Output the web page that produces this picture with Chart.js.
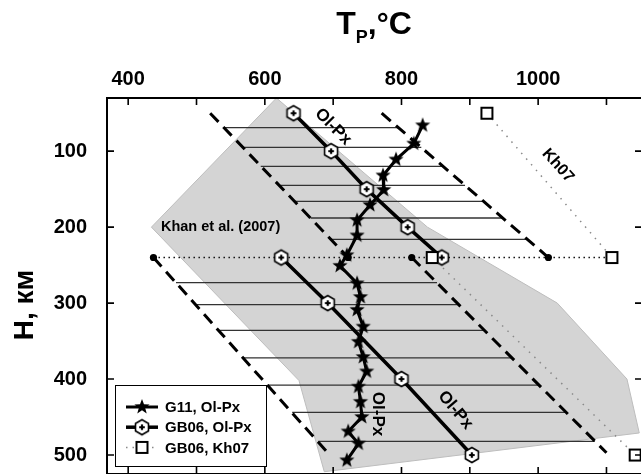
<!DOCTYPE html>
<html>
<head>
<meta charset="utf-8">
<script src="https://cdn.jsdelivr.net/npm/chart.js@4.4.0/dist/chart.umd.min.js"></script>
<style>
  html, body { margin: 0; padding: 0; background: #fff; overflow: hidden; }
  canvas { display: block; }
</style>
</head>
<body>
<canvas id="chart" width="645" height="480" style="width:645px;height:480px"></canvas>
<script>
const FONT = "'Liberation Sans', Arial, sans-serif";

const xTicks = [400, 500, 600, 700, 800, 900, 1000, 1100];
const yTicks = [100, 200, 300, 400, 500];

// G11, Ol-Px
const g11Depth = [66, 90, 111, 132, 151, 171, 191, 211, 237, 251, 274, 292, 309, 331, 351, 371, 390, 410, 430, 450, 469, 485, 507];
const g11Temp  = [831, 818, 792, 773, 774, 754, 735, 735, 720, 710, 735, 740, 735, 744, 737, 744, 749, 737, 740, 742, 722, 737, 720];

// GB06, Ol-Px (two branches)
const gbUpperDepth = [50, 100, 150, 200, 240];
const gbUpperTemp  = [642, 697, 749, 809, 859];
const gbLowerDepth = [240, 300, 400, 500];
const gbLowerTemp  = [624, 692, 800, 903];

// GB06, Kh07
const khUpperDepth = [50, 240];
const khUpperTemp  = [925, 1108];
const khLowerDepth = [240, 500];
const khLowerTemp  = [845, 1142];

// 240 km level
const levelDepth = [240, 240];
const levelTemp  = [437, 1108];

// dashed bounds
const dashUpperDepth = [50, 240];
const dashUpperLeft  = [520, 722];
const dashUpperRight = [771, 1015];
const dashLowerDepth = [240, 500];
const dashLowerLeft  = [437, 695];
const dashLowerRightDepth = [240, 497];
const dashLowerRight = [815, 1100];

// tie lines
const tieUpperDepth = [69, 95, 120, 145, 166, 188, 216];
const tieUpperLeft  = [540, 568, 594, 621, 643, 667, 696];
const tieUpperRight = [795, 829, 861, 893, 920, 948, 984];
const tieLowerDepth = [273, 302, 336, 372, 408, 444, 482];
const tieLowerLeft  = [470, 499, 532, 568, 604, 640, 678];
const tieLowerRight = [852, 884, 921, 961, 1001, 1041, 1083];

// Khan et al. (2007) region
const khanTemp  = [617, 838, 1028, 1130, 1148, 687, 650, 434, 617];
const khanDepth = [30, 200, 300, 400, 471, 522, 402, 200, 30];

function pts(temps, depths) {
  return temps.map((t, i) => ({ x: t, y: depths[i] }));
}

function ties(depths, left, right) {
  const out = [];
  depths.forEach((d, i) => {
    out.push({ x: left[i], y: d }, { x: right[i], y: d }, { x: right[i], y: null });
  });
  return out;
}

function makeCanvas(s) {
  const c = document.createElement('canvas');
  c.width = s; c.height = s;
  return c;
}

function makeStar(r) {
  const s = 2 * Math.ceil(r + 2);
  const c = makeCanvas(s);
  const g = c.getContext('2d');
  const cx = s / 2, cy = s / 2;
  g.beginPath();
  for (let i = 0; i < 10; i++) {
    const rad = i % 2 === 0 ? r : r * 0.42;
    const a = -Math.PI / 2 + i * Math.PI / 5;
    g.lineTo(cx + rad * Math.cos(a), cy + rad * Math.sin(a));
  }
  g.closePath();
  g.fillStyle = '#000';
  g.fill();
  return c;
}

function makeHex(r) {
  const s = 2 * Math.ceil(r + 2);
  const c = makeCanvas(s);
  const g = c.getContext('2d');
  const cx = s / 2, cy = s / 2;
  g.beginPath();
  for (let i = 0; i < 6; i++) {
    const a = -Math.PI / 2 + i * Math.PI / 3;
    g.lineTo(cx + r * Math.cos(a), cy + r * Math.sin(a));
  }
  g.closePath();
  g.fillStyle = '#fff';
  g.fill();
  g.lineWidth = 1.6;
  g.strokeStyle = '#000';
  g.stroke();
  g.lineWidth = 2.2;
  g.beginPath();
  g.moveTo(cx - 2.8, cy); g.lineTo(cx + 2.8, cy);
  g.moveTo(cx, cy - 2.8); g.lineTo(cx, cy + 2.8);
  g.stroke();
  return c;
}

function makeSquare(a) {
  const s = a + 6;
  const c = makeCanvas(s);
  const g = c.getContext('2d');
  g.fillStyle = '#fff';
  g.fillRect(3, 3, a, a);
  g.lineWidth = 2;
  g.strokeStyle = '#000';
  g.strokeRect(3, 3, a, a);
  return c;
}

const starImg = makeStar(8);
const hexImg = makeHex(7.5);
const squareImg = makeSquare(11);

function dashed(data, dotIndex) {
  return {
    data: data,
    borderColor: '#000',
    borderWidth: 3,
    borderDash: [12, 7],
    pointRadius: data.map((p, i) => (i === dotIndex ? 3.6 : 0)),
    pointBackgroundColor: '#000',
    pointBorderWidth: 0,
    fill: false
  };
}

const datasets = [
  {
    label: 'G11, Ol-Px',
    data: pts(g11Temp, g11Depth),
    borderColor: '#000', borderWidth: 3,
    pointStyle: starImg, pointRadius: 6, fill: false
  },
  {
    label: 'GB06, Kh07',
    data: pts(khUpperTemp, khUpperDepth),
    borderColor: '#8a8a8a', borderWidth: 1.5, borderDash: [1.5, 6],
    pointStyle: squareImg, pointRadius: 6, fill: false
  },
  {
    data: pts(khLowerTemp, khLowerDepth),
    borderColor: '#8a8a8a', borderWidth: 1.5, borderDash: [1.5, 6],
    pointStyle: squareImg, pointRadius: 6, fill: false
  },
  {
    label: 'GB06, Ol-Px',
    data: pts(gbUpperTemp, gbUpperDepth),
    borderColor: '#000', borderWidth: 3.5,
    pointStyle: hexImg, pointRadius: 6, fill: false
  },
  {
    data: pts(gbLowerTemp, gbLowerDepth),
    borderColor: '#000', borderWidth: 3.5,
    pointStyle: hexImg, pointRadius: 6, fill: false
  },
  dashed(pts(dashUpperLeft, dashUpperDepth), 1),
  dashed(pts(dashUpperRight, dashUpperDepth), 1),
  dashed(pts(dashLowerLeft, dashLowerDepth), 0),
  dashed(pts(dashLowerRight, dashLowerRightDepth), 0),
  {
    data: pts(levelTemp, levelDepth),
    borderColor: '#111', borderWidth: 1.3, borderDash: [1.5, 3.5],
    pointRadius: 0, fill: false
  },
  {
    data: ties(tieUpperDepth, tieUpperLeft, tieUpperRight),
    borderColor: '#333', borderWidth: 1.3, pointRadius: 0, fill: false
  },
  {
    data: ties(tieLowerDepth, tieLowerLeft, tieLowerRight),
    borderColor: '#333', borderWidth: 1.3, pointRadius: 0, fill: false
  },
  {
    data: pts(khanTemp, khanDepth),
    borderColor: '#bdbdbd', borderWidth: 1,
    backgroundColor: '#d4d4d4',
    pointRadius: 0, fill: 'shape'
  }
];

const frame = {
  id: 'frame',
  afterDatasetsDraw(chart) {
    const { ctx, chartArea: a, scales: { x, y } } = chart;
    ctx.save();
    ctx.strokeStyle = '#000';
    ctx.lineWidth = 2;
    ctx.strokeRect(a.left, a.top, a.right - a.left, a.bottom - a.top);
    ctx.lineWidth = 1.6;
    ctx.beginPath();
    xTicks.forEach(v => {
      const px = x.getPixelForValue(v);
      ctx.moveTo(px, a.top); ctx.lineTo(px, a.top + 7);
      ctx.moveTo(px, a.bottom); ctx.lineTo(px, a.bottom - 7);
    });
    yTicks.forEach(v => {
      const py = y.getPixelForValue(v);
      ctx.moveTo(a.left, py); ctx.lineTo(a.left + 7, py);
      ctx.moveTo(a.right, py); ctx.lineTo(a.right - 7, py);
    });
    ctx.stroke();

    // labels on the plot
    ctx.fillStyle = '#000';
    const label = (text, t, h, deg, size, align) => {
      ctx.save();
      ctx.translate(x.getPixelForValue(t), y.getPixelForValue(h));
      ctx.rotate(deg * Math.PI / 180);
      ctx.font = 'bold ' + size + 'px ' + FONT;
      ctx.textAlign = align || 'center';
      ctx.textBaseline = align ? 'alphabetic' : 'middle';
      ctx.fillText(text, 0, 0);
      ctx.restore();
    };
    label('Khan et al. (2007)', 448, 205, 0, 14.5, 'left');
    label('Ol-Px', 700, 68, 45, 17);
    label('Kh07', 1029, 119, 48, 16);
    label('Ol-Px', 879, 441, 50, 17);
    label('Ol-Px', 765, 446, 90, 17);

    // legend box
    ctx.fillStyle = '#fff';
    ctx.fillRect(115, 385, 151, 81);
    ctx.lineWidth = 1;
    ctx.strokeStyle = '#000';
    ctx.strokeRect(115.5, 385.5, 151, 81);
    const items = [
      { text: 'G11, Ol-Px', img: starImg, color: '#000', width: 3, dash: [] },
      { text: 'GB06, Ol-Px', img: hexImg, color: '#000', width: 3.5, dash: [] },
      { text: 'GB06, Kh07', img: squareImg, color: '#8a8a8a', width: 1.5, dash: [1.5, 5] }
    ];
    items.forEach((it, i) => {
      const ly = 407 + i * 20.2;
      ctx.save();
      ctx.strokeStyle = it.color;
      ctx.lineWidth = it.width;
      ctx.setLineDash(it.dash);
      ctx.beginPath();
      ctx.moveTo(126, ly); ctx.lineTo(158, ly);
      ctx.stroke();
      ctx.restore();
      ctx.drawImage(it.img, 142 - it.img.width / 2, ly - it.img.height / 2);
      ctx.fillStyle = '#000';
      ctx.font = 'bold 15px ' + FONT;
      ctx.textAlign = 'left';
      ctx.textBaseline = 'middle';
      ctx.fillText(it.text, 165, ly + 1);
    });
    ctx.restore();
  },
  afterDraw(chart) {
    const { ctx } = chart;
    ctx.save();
    ctx.fillStyle = '#000';
    ctx.textBaseline = 'alphabetic';
    // top title T_P, °C
    const parts = [
      { t: 'T', size: 32, dy: 0 },
      { t: 'P', size: 18, dy: 9 },
      { t: ',', size: 32, dy: 0 },
      { t: '°', size: 30, dy: 0 },
      { t: 'C', size: 32, dy: 0 }
    ];
    let total = 0;
    parts.forEach(p => { ctx.font = 'bold ' + p.size + 'px ' + FONT; p.w = ctx.measureText(p.t).width; total += p.w; });
    let cx = 374 - total / 2;
    parts.forEach(p => {
      ctx.font = 'bold ' + p.size + 'px ' + FONT;
      ctx.textAlign = 'left';
      ctx.fillText(p.t, cx, 34 + p.dy);
      cx += p.w;
    });
    // y title
    ctx.translate(33, 305);
    ctx.rotate(-Math.PI / 2);
    ctx.font = 'bold 28px ' + FONT;
    ctx.textAlign = 'center';
    ctx.fillText('H, км', 0, 0);
    ctx.restore();
  }
};

new Chart(document.getElementById('chart'), {
  type: 'line',
  data: { datasets: datasets },
  plugins: [frame],
  options: {
    responsive: false,
    animation: false,
    layout: { autoPadding: false, padding: { left: 0, right: 3, top: 0, bottom: 6 } },
    plugins: {
      legend: { display: false },
      tooltip: { enabled: false }
    },
    scales: {
      x: {
        type: 'linear',
        position: 'top',
        min: 369,
        max: 1152,
        afterBuildTicks: s => { s.ticks = xTicks.map(v => ({ value: v })); },
        afterFit: s => { s.height = 98; s.paddingLeft = 0; s.paddingRight = 0; },
        grid: { display: false, drawTicks: false },
        border: { display: false },
        ticks: {
          callback: v => (v % 200 === 0 ? String(v) : ''),
          font: { family: FONT, size: 20, weight: 'bold' },
          color: '#000',
          padding: 7,
          maxRotation: 0,
          autoSkip: false
        }
      },
      y: {
        type: 'linear',
        reverse: true,
        min: 30,
        max: 525,
        afterBuildTicks: s => { s.ticks = yTicks.map(v => ({ value: v })); },
        afterFit: s => { s.width = 107; s.paddingTop = 0; s.paddingBottom = 0; },
        grid: { display: false, drawTicks: false },
        border: { display: false },
        ticks: {
          font: { family: FONT, size: 20, weight: 'bold' },
          color: '#000',
          padding: 20,
          autoSkip: false
        }
      }
    }
  }
});
</script>
</body>
</html>
